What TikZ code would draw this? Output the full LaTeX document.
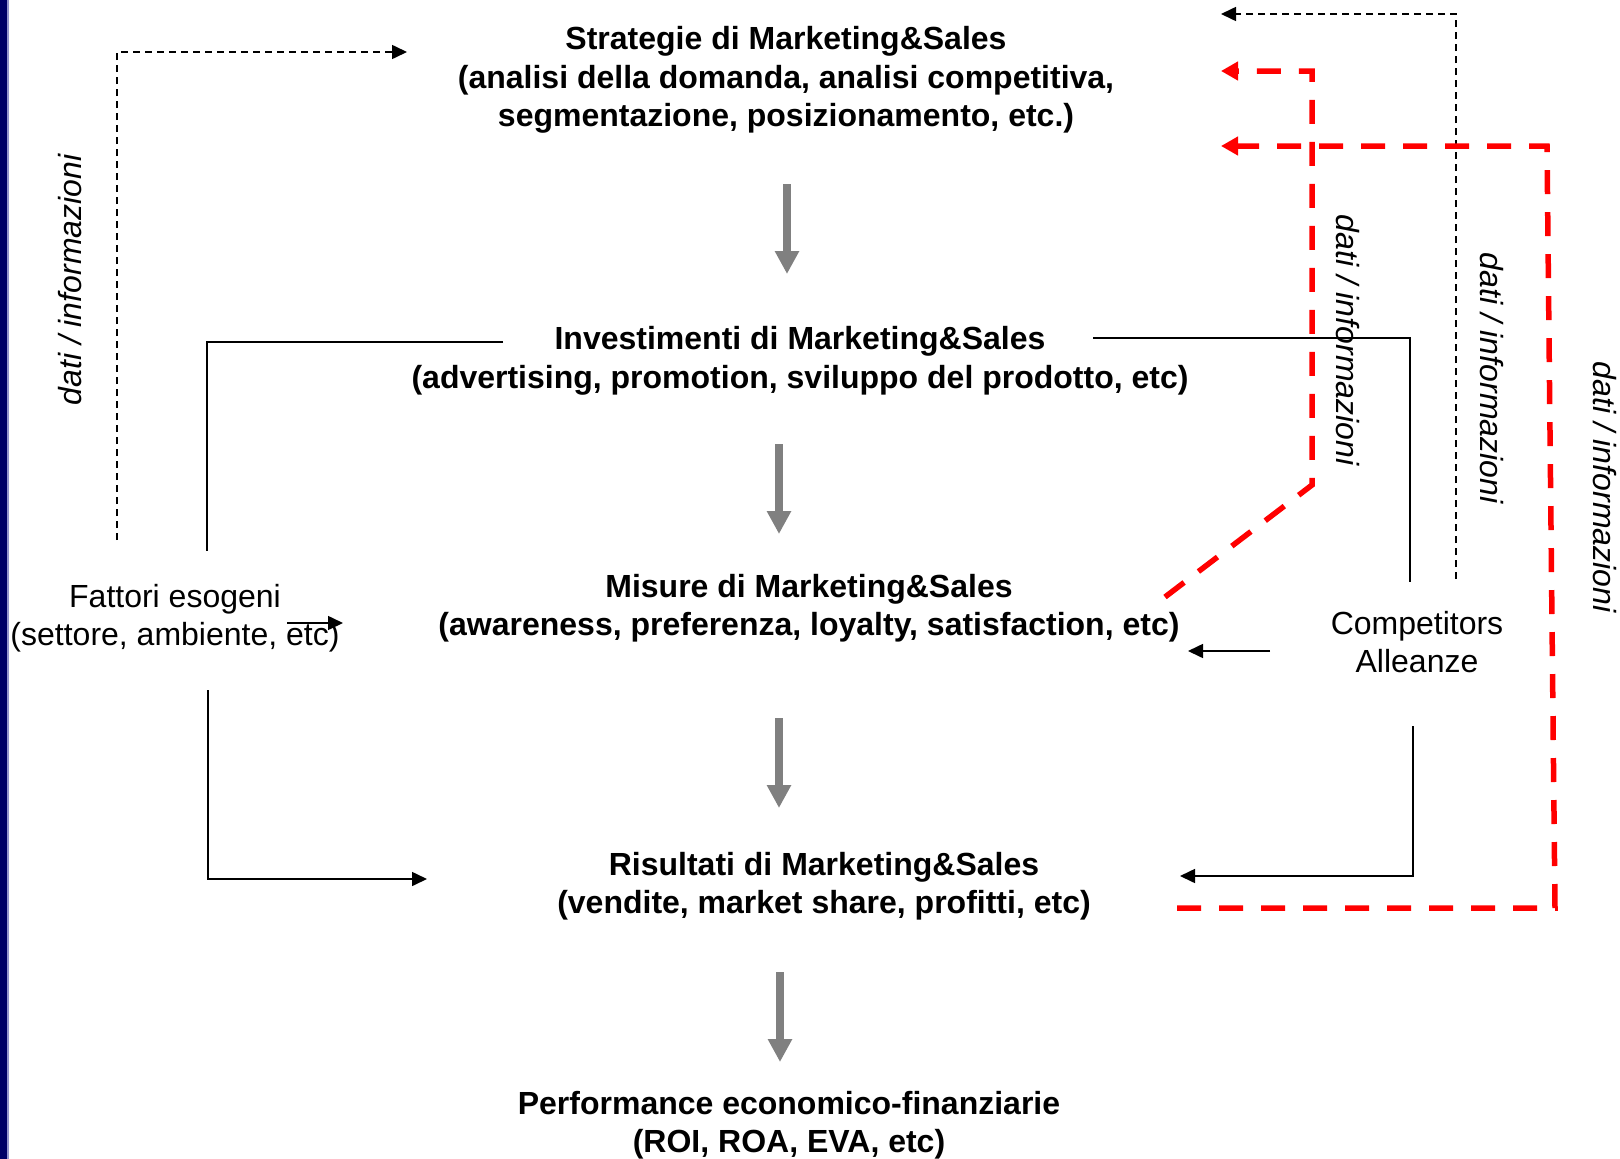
\documentclass[tikz,border=0pt]{standalone}
\usepackage{fontspec}
\setmainfont{Liberation Sans}
\usetikzlibrary{arrows.meta}
\definecolor{navybar}{RGB}{0,0,102}
\definecolor{barlight}{RGB}{150,150,205}
\definecolor{flowgray}{RGB}{128,128,128}
\definecolor{infored}{RGB}{255,0,0}

\begin{document}
\begin{tikzpicture}[x=1pt,y=-1pt,
  every node/.style={inner sep=0pt, outer sep=0pt, font=\fontsize{32}{38.5}\selectfont},
  stage/.style={align=center, font=\fontsize{32}{38.5}\selectfont\bfseries},
  factor/.style={align=center},
  infolabel/.style={font=\fontsize{32}{38.5}\selectfont\itshape},
  flow/.style={draw=flowgray, line width=8pt, -{Triangle[length=23pt,width=23pt]}},
  link/.style={draw=black, line width=1.6pt},
  linkarrow/.style={link, -{Triangle[length=15pt,width=14pt]}},
  infodash/.style={draw=black, line width=1.6pt, dash pattern=on 7pt off 5pt, -{Triangle[length=15pt,width=14pt]}},
  feedback/.style={draw=infored, line width=5.5pt, dash pattern=on 24pt off 18pt, -{Triangle[length=17pt,width=18pt]}},
]
% page and left margin bar
\useasboundingbox (0,0) rectangle (1620,1159);
\fill[white] (0,0) rectangle (1620,1159);
\fill[navybar] (0,0) rectangle (7,1159);
\fill[barlight] (7,0) rectangle (9,1159);

% main chain of stages
\node[stage] (strat) at (786,80) {Strategie di Marketing\&Sales\\(analisi della domanda, analisi competitiva,\\segmentazione, posizionamento, etc.)};
\node[stage] (inv) at (800,361) {Investimenti di Marketing\&Sales\\(advertising, promotion, sviluppo del prodotto, etc)};
\node[stage] (mis) at (809,608) {Misure di Marketing\&Sales\\(awareness, preferenza, loyalty, satisfaction, etc)};
\node[stage] (ris) at (824,886) {Risultati di Marketing\&Sales\\(vendite, market share, profitti, etc)};
\node[stage] (perf) at (789,1125) {Performance economico-finanziarie\\(ROI, ROA, EVA, etc)};

% side factors
\node[factor] (fatt) at (175,618) {Fattori esogeni\\(settore, ambiente, etc)};
\node[factor] (comp) at (1417,642) {Competitors\\Alleanze};

% information labels
\node[infolabel, rotate=90] (lab1) at (70,280) {dati / informazioni};
\node[infolabel, rotate=-90] (lab2) at (1348,340) {dati / informazioni};
\node[infolabel, rotate=-90] (lab3) at (1492,378) {dati / informazioni};
\node[infolabel, rotate=-90] (lab4) at (1605,487) {dati / informazioni};

% gray flow arrows between stages
\coordinate (f1s) at (787,184); \coordinate (f1e) at (787,274);
\coordinate (f2s) at (779,444); \coordinate (f2e) at (779,534);
\coordinate (f3s) at (779,718); \coordinate (f3e) at (779,808);
\coordinate (f4s) at (780,972); \coordinate (f4e) at (780,1062);
\draw[flow] (f1s) -- (f1e);
\draw[flow] (f2s) -- (f2e);
\draw[flow] (f3s) -- (f3e);
\draw[flow] (f4s) -- (f4e);

% exogenous factors links
\coordinate (invL) at (503,342);
\coordinate (fattT) at (207,551);
\draw[link] (invL) -- (207,342) -- (fattT);
\coordinate (fattA) at (287,623);
\coordinate (fattAe) at (343,623);
\draw[linkarrow] (fattA) -- (fattAe);
\coordinate (fattB) at (208,690);
\coordinate (risL) at (427,879);
\draw[linkarrow] (fattB) -- (208,879) -- (risL);
\coordinate (infoL) at (117,540);
\coordinate (stratL) at (407,52);
\draw[infodash] (infoL) -- (117,52) -- (stratL);

% competitors links
\coordinate (invR) at (1093,338);
\coordinate (compT) at (1410,582);
\draw[link] (invR) -- (1410,338) -- (compT);
\coordinate (compL) at (1270,651);
\coordinate (misR) at (1188,651);
\draw[linkarrow] (compL) -- (misR);
\coordinate (compB) at (1413,726);
\coordinate (risR) at (1180,876);
\draw[linkarrow] (compB) -- (1413,876) -- (risR);
\coordinate (compI) at (1456,579);
\coordinate (stratR1) at (1221,14);
\draw[infodash] (compI) -- (1456,14) -- (stratR1);

% red feedback loops
\coordinate (misFb) at (1165,597);
\coordinate (stratR2) at (1221,71);
\draw[feedback] (misFb) -- (1312,485) -- (1312,71) -- (stratR2);
\coordinate (risFb) at (1177,908);
\coordinate (stratR3) at (1221,146);
\draw[feedback] (risFb) -- (1555,908) -- (1547,146) -- (stratR3);
\end{tikzpicture}
\end{document}
